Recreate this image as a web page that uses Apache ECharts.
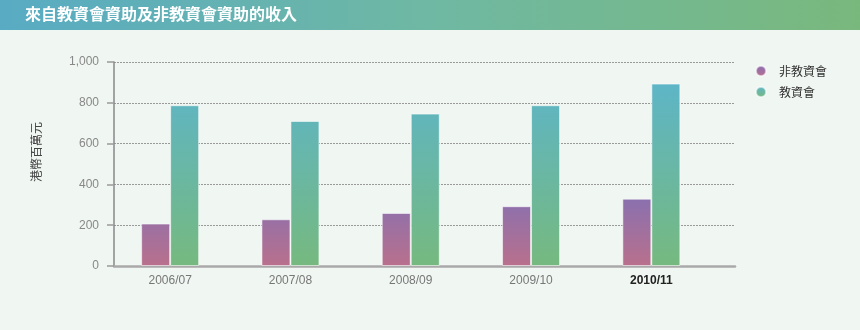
<!DOCTYPE html>
<html>
<head>
<meta charset="utf-8">
<script src="https://cdn.jsdelivr.net/npm/echarts@6/dist/echarts.min.js"></script>
<style>
html,body{margin:0;padding:0;background:#f0f6f1;}
#c{width:860px;height:330px;}
</style>
</head>
<body>
<div id="c"></div>
<script>
const categories = ['2006/07', '2007/08', '2008/09', '2009/10', '2010/11'];
const nonUgcValues = [208, 229, 260, 293, 330];
const ugcValues = [788, 711, 747, 788, 894];
const seriesNames = ['非教資會', '教資會'];
const yTicks = [0, 200, 400, 600, 800, 1000];
const titleText = '來自教資會資助及非教資會資助的收入';
const yAxisName = '港幣百萬元';

const chart = echarts.init(document.getElementById('c'), null, {renderer: 'canvas'});

function grad(top, bottom, global, y0, y1) {
  if (global) {
    return new echarts.graphic.LinearGradient(0, y0, 0, y1, [
      {offset: 0, color: top}, {offset: 1, color: bottom}
    ], true);
  }
  return new echarts.graphic.LinearGradient(0, 0, 0, 1, [
    {offset: 0, color: top}, {offset: 1, color: bottom}
  ]);
}

const catData = categories.map((c, i) => i === categories.length - 1
  ? {value: c, textStyle: {fontWeight: 'bold', color: '#222'}}
  : c);

const cjk = '"Noto Sans CJK TC", "Noto Sans CJK SC", sans-serif';

chart.setOption({
  backgroundColor: '#f0f6f1',
  animation: false,
  graphic: [
    {
      type: 'rect', left: 0, top: 0, z: -1,
      shape: {width: 860, height: 30},
      style: {
        fill: new echarts.graphic.LinearGradient(0, 0, 1, 0, [
          {offset: 0, color: '#58abc3'},
          {offset: 0.5, color: '#6fb8a3'},
          {offset: 1, color: '#79b87d'}
        ])
      }
    },
    {
      type: 'text', left: 25, top: 6,
      style: {text: titleText, fill: '#ffffff', font: 'bold 16px ' + cjk}
    }
  ],
  legend: {
    orient: 'vertical',
    left: 750, top: 60,
    itemWidth: 10, itemHeight: 10, itemGap: 9,
    icon: 'circle',
    textStyle: {color: '#333', fontSize: 12, fontFamily: cjk, padding: [0, 0, 0, 8]},
    data: [
      {name: seriesNames[0], itemStyle: {color: grad('#8a6db2', '#b8708e')}},
      {name: seriesNames[1], itemStyle: {color: grad('#5fb5c6', '#76b97f')}}
    ]
  },
  grid: [
    {left: 114, right: 125, top: 62, bottom: 64},
    {left: 110, width: 601.5, top: 62, bottom: 64}
  ],
  xAxis: [
    {
      gridIndex: 0, type: 'category', data: categories,
      axisLine: {show: true, lineStyle: {color: '#a9a9a9', width: 2.5}},
      axisTick: {show: false}, axisLabel: {show: false}, splitLine: {show: false}
    },
    {
      gridIndex: 1, type: 'category', data: catData,
      axisLine: {show: false}, axisTick: {show: false},
      axisLabel: {color: '#777', fontSize: 12, margin: 9, fontFamily: 'Liberation Sans, Arial, sans-serif'},
      splitLine: {show: false}
    }
  ],
  yAxis: [
    {
      gridIndex: 0, type: 'value', min: yTicks[0], max: yTicks[yTicks.length - 1], interval: 200,
      name: yAxisName, nameLocation: 'middle', nameGap: 72, nameRotate: 90,
      nameTextStyle: {color: '#444', fontSize: 12, fontFamily: cjk, padding: [0, 0, 0, 24]},
      axisLine: {show: true, lineStyle: {color: '#888', width: 1.5}},
      axisTick: {show: true, length: 7, lineStyle: {color: '#999', width: 1.5}},
      axisLabel: {color: '#888', fontSize: 12, margin: 15, fontFamily: 'Liberation Sans, Arial, sans-serif',
        formatter: v => v.toLocaleString('en-US')},
      splitLine: {show: true, lineStyle: {color: '#999', width: 1, type: [2, 1]}}
    },
    {
      gridIndex: 1, type: 'value', min: yTicks[0], max: yTicks[yTicks.length - 1], interval: 200,
      show: false, splitLine: {show: false}
    }
  ],
  series: [
    {
      name: seriesNames[0], type: 'bar', xAxisIndex: 1, yAxisIndex: 1,
      data: nonUgcValues, barWidth: 29, barGap: '0%',
      itemStyle: {color: grad('#8470b3', '#b9708d', true, 190, 266),
        borderColor: 'rgba(255,255,255,0.55)', borderWidth: 1}
    },
    {
      name: seriesNames[1], type: 'bar', xAxisIndex: 1, yAxisIndex: 1,
      data: ugcValues, barWidth: 29, barGap: '0%',
      itemStyle: {color: grad('#5db5c8', '#76b97f', true, 80, 266),
        borderColor: 'rgba(255,255,255,0.55)', borderWidth: 1}
    }
  ]
});
</script>
</body>
</html>
